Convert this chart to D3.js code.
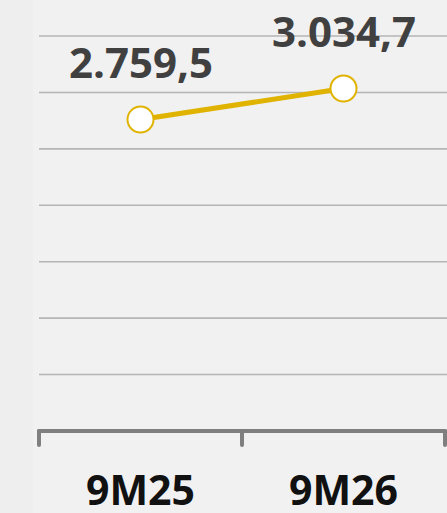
<!DOCTYPE html>
<html><head><meta charset="utf-8">
<script src="https://cdn.jsdelivr.net/npm/d3@7"></script>
<style>
html,body{margin:0;padding:0;background:#eeeeee;}
svg{display:block;}
</style></head>
<body>
<svg id="chart" width="447" height="513"></svg>
<script>
const categories = ["9M25", "9M26"];
const values = [2759.5, 3034.7];
const valueLabels = ["2.759,5", "3.034,7"];
const yTicks = [500, 1000, 1500, 2000, 2500, 3000, 3500];

(function () {
const W = 447, H = 513;
const svg = d3.select("#chart");
const mLeft = 39, mRight = 445, mTop = 36, mBottom = 431;

svg.append("rect").attr("x", 0).attr("y", 0).attr("width", W).attr("height", H).attr("fill", "#eeeeee");
svg.append("rect").attr("x", 33).attr("y", 0).attr("width", W - 33).attr("height", H).attr("fill", "#f1f1f1");

const x = d3.scaleBand().domain(categories).range([mLeft, mRight]).padding(0);
const y = d3.scaleLinear().domain([0, 3500]).range([mBottom, mTop]);

// gridlines
svg.append("g").selectAll("line").data(yTicks).join("line")
  .attr("x1", mLeft).attr("x2", W)
  .attr("y1", d => y(d)).attr("y2", d => y(d))
  .attr("stroke", "#b5b5b5").attr("stroke-width", 1.6);

// x axis
const ax = svg.append("g");
ax.append("line").attr("x1", mLeft).attr("x2", mRight).attr("y1", mBottom).attr("y2", mBottom)
  .attr("stroke", "#7f7f7f").attr("stroke-width", 4).attr("stroke-linecap", "round");
const tickX = categories.map(c => x(c)).concat([x(categories[categories.length - 1]) + x.bandwidth()]);
ax.selectAll(".tk").data(tickX).join("line").attr("class", "tk")
  .attr("x1", d => d).attr("x2", d => d).attr("y1", mBottom).attr("y2", mBottom + 14)
  .attr("stroke", "#7f7f7f").attr("stroke-width", 4).attr("stroke-linecap", "round");

ax.selectAll("text").data(categories).join("text")
  .attr("x", d => x(d) + x.bandwidth() / 2).attr("y", 505)
  .attr("text-anchor", "middle")
  .attr("font-family", "'Open Sans', sans-serif").attr("font-weight", 700)
  .attr("font-size", 41).attr("fill", "#111")
  .text(d => d);

// line
const pts = categories.map((c, i) => [x(c) + x.bandwidth() / 2, y(values[i])]);
svg.append("path").attr("d", d3.line()(pts))
  .attr("fill", "none").attr("stroke", "#e0b300").attr("stroke-width", 5);

svg.append("g").selectAll("circle").data(pts).join("circle")
  .attr("cx", d => d[0]).attr("cy", d => d[1]).attr("r", 13)
  .attr("fill", "#fff").attr("stroke", "#e0b300").attr("stroke-width", 2);

// value labels
svg.append("g").selectAll("text").data(pts).join("text")
  .attr("x", d => d[0] + 0.5).attr("y", d => d[1] - 42)
  .attr("text-anchor", "middle")
  .attr("font-family", "'Open Sans', sans-serif").attr("font-weight", 700)
  .attr("font-size", 42).attr("fill", "#404040")
  .text((d, i) => valueLabels[i]);
})();
</script>
</body></html>
